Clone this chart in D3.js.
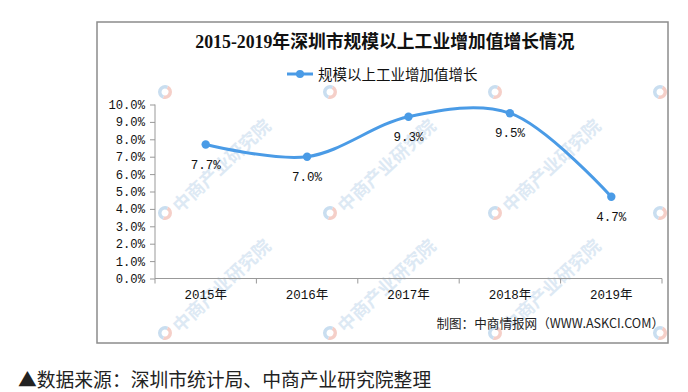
<!DOCTYPE html>
<html><head><meta charset="utf-8">
<script src="https://cdn.jsdelivr.net/npm/d3@7"></script>
<style>
html,body{margin:0;padding:0;background:#fff;}
svg{display:block;}
</style></head>
<body>
<svg id="chart" width="688" height="392"></svg>
<script>
const categories = ["2015年","2016年","2017年","2018年","2019年"];
const values = [7.7, 7.0, 9.3, 9.5, 4.7];
const yTicks = [0,1,2,3,4,5,6,7,8,9,10];
const titleText = "2015-2019年深圳市规模以上工业增加值增长情况";
const seriesName = "规模以上工业增加值增长";
const creditText = "制图：中商情报网（WWW.ASKCI.COM）";
const sourceText = "▲数据来源：深圳市统计局、中商产业研究院整理";
const watermarkText = "中商产业研究院";

const svg = d3.select("#chart");
const lineColor = "#4a9be6";
const monoFont = "'Liberation Mono','Noto Sans CJK SC',monospace";
const cjkFont = "'Noto Sans CJK SC',sans-serif";

// frame
const box = {x0:97, y0:22, x1:668, y1:343};
svg.append("defs").append("clipPath").attr("id","boxclip")
  .append("rect").attr("x",box.x0).attr("y",box.y0).attr("width",box.x1-box.x0).attr("height",box.y1-box.y0);

// watermarks (logos everywhere, texts only where they fit inside the frame)
const wm = svg.append("g").attr("clip-path","url(#boxclip)");
const wmX = [165,330,495,660];
const wmY = [92,213,333];
wmX.forEach(x=>wmY.forEach(y=>{
  const g = wm.append("g").attr("transform",`translate(${x},${y})`);
  const r=7;
  g.append("path").attr("d",d3.arc()({innerRadius:3.5,outerRadius:r,startAngle:Math.PI*0.15,endAngle:Math.PI*1.1}))
    .attr("fill","#f5cfc8");
  g.append("path").attr("d",d3.arc()({innerRadius:3.5,outerRadius:r,startAngle:Math.PI*1.1,endAngle:Math.PI*2.15}))
    .attr("fill","#c9def0");
  if (y > 100 && x < 600) {
    g.append("text").attr("transform","translate(11,-4) rotate(-43)")
      .attr("font-family",cjkFont).attr("font-size",18).attr("font-weight","bold")
      .attr("fill","#dde9f4").attr("x",0).attr("y",6).text(watermarkText);
  }
}));

svg.append("rect").attr("x",box.x0).attr("y",box.y0).attr("width",box.x1-box.x0).attr("height",box.y1-box.y0)
  .attr("fill","none").attr("stroke","#8c8c8c").attr("stroke-width",1.5);

// scales
const x = d3.scaleBand().domain(categories).range([155,662]);
const y = d3.scaleLinear().domain([0,10]).range([278.5,104.5]);

// axes
const yAxis = d3.axisLeft(y).tickValues(yTicks).tickSize(5).tickPadding(5)
  .tickFormat(d=>d3.format(".1f")(d)+"%");
const gy = svg.append("g").attr("transform","translate(155,0)").call(yAxis);
gy.select(".domain").attr("stroke","#999").attr("d","M0,104.5V278.5");
gy.selectAll(".tick line").attr("stroke","#999");
gy.selectAll("text").attr("font-family",monoFont).attr("font-size",12.2).attr("fill","#111");

const xAxis = d3.axisBottom(x).tickSize(0).tickPadding(12);
const gx = svg.append("g").attr("transform","translate(0,278.5)").call(xAxis);
gx.select(".domain").attr("stroke","#999").attr("d","M155,0H662");
gx.selectAll("text").attr("font-family",monoFont).attr("font-size",12.5).attr("fill","#111");
const bounds = categories.map(c=>x(c)).concat([x.range()[1]]);
gx.selectAll(".bt").data(bounds).enter().append("line")
  .attr("x1",d=>d).attr("x2",d=>d).attr("y1",0).attr("y2",5).attr("stroke","#999");

// line
const line = d3.line().x((d,i)=>x(categories[i])+x.bandwidth()/2).y(d=>y(d))
  .curve(d3.curveCatmullRom.alpha(0.5));
svg.append("path").datum(values).attr("d",line).attr("fill","none")
  .attr("stroke",lineColor).attr("stroke-width",3).attr("stroke-linecap","round");
svg.selectAll(".pt").data(values).enter().append("circle")
  .attr("cx",(d,i)=>x(categories[i])+x.bandwidth()/2).attr("cy",d=>y(d)).attr("r",4.2)
  .attr("fill",lineColor);
svg.selectAll(".lbl").data(values).enter().append("text")
  .attr("x",(d,i)=>x(categories[i])+x.bandwidth()/2).attr("y",d=>y(d)+24)
  .attr("text-anchor","middle").attr("font-family",monoFont).attr("font-size",12.5)
  .attr("fill","#111").text(d=>d3.format(".1f")(d)+"%");

// title
svg.append("text").attr("x",385).attr("y",48).attr("text-anchor","middle")
  .attr("font-family","'Liberation Serif','Noto Sans CJK SC',serif").attr("font-weight","bold")
  .attr("font-size",17.8).attr("fill","#111").text(titleText);

// legend
svg.append("line").attr("x1",287).attr("x2",313).attr("y1",74).attr("y2",74)
  .attr("stroke",lineColor).attr("stroke-width",3);
svg.append("circle").attr("cx",300).attr("cy",74).attr("r",4).attr("fill",lineColor);
svg.append("text").attr("x",318).attr("y",79.5).attr("font-family",cjkFont).attr("font-size",14.5)
  .attr("fill","#111").text(seriesName);

// credit
svg.append("text").attr("x",664).attr("y",328).attr("text-anchor","end").attr("font-family",cjkFont)
  .attr("font-size",12.6).attr("fill","#222").text(creditText);

// source
svg.append("text").attr("x",18).attr("y",387).attr("font-family",cjkFont)
  .attr("font-size",18.8).attr("fill","#222").text(sourceText);
</script>
</body></html>
